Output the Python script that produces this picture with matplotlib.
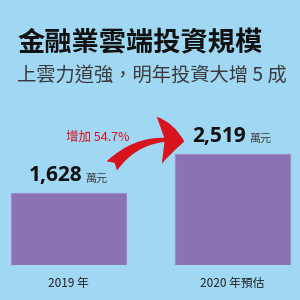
import matplotlib
matplotlib.use("Agg")
import matplotlib.pyplot as plt
from matplotlib.patches import FancyArrowPatch

# data
categories = ["2019 年", "2020 年預估"]
values = [1628, 2519]
value_labels = ["1,628", "2,519"]
unit = "萬元"
growth_label = "增加 54.7%"
title = "金融業雲端投資規模"
subtitle = "上雲力道強，明年投資大增 5 成"

BG = "#a0d8f3"
BAR = "#8a73b1"
CJK = ["Noto Sans CJK TC", "DejaVu Sans"]
NUM = ["Open Sans", "Noto Sans CJK TC"]

fig = plt.figure(figsize=(3, 3), dpi=100, facecolor=BG)

fig.text(17 / 300, 1 - 43 / 300, title, family=CJK, weight="bold",
         fontsize=19.6, color="#111111", va="center", ha="left")
fig.text(17 / 300, 1 - 75 / 300, subtitle, family=CJK,
         fontsize=13.9, color="#3a3a3a", va="center", ha="left")

# axes: baseline at y=265px, spans whole width
ax = fig.add_axes([0, 35 / 300, 1, 265 / 300])
ax.set_facecolor("none")
px_per_unit = 111 / 2519
ax.set_ylim(0, 265 / px_per_unit)
ax.set_xlim(-68.5 / 164, 231.5 / 164)
ax.axis("off")

x = list(range(len(values)))
ax.bar(x, values, width=115 / 164, color=BAR, edgecolor="#9a8cc4", linewidth=0.8)

for i, v in enumerate(values):
    ax.annotate(value_labels[i], (i - 0.08, v), xytext=(0, 5), textcoords="offset points",
                ha="center", va="bottom", family=NUM, weight="bold", fontsize=15, color="#111111")
    ax.annotate(unit, (i + 0.17, v), xytext=(0, 7), textcoords="offset points",
                ha="center", va="bottom", family=CJK, fontsize=8, color="#444444")
    ax.annotate(categories[i], (i, 0), xytext=(0, -13), textcoords="offset points",
                ha="center", va="center", family=CJK, fontsize=8.5, color="#222222")

# red growth arrow
arrow = FancyArrowPatch((110 / 300, 1 - 168 / 300), (187 / 300, 1 - 142 / 300),
                        transform=fig.transFigure, connectionstyle="arc3,rad=-0.3",
                        arrowstyle="fancy,head_length=1.8,head_width=3.4,tail_width=1.0",
                        facecolor="#d7141c", edgecolor="none", mutation_scale=10)
fig.patches.append(arrow)
fig.text(98 / 300, 1 - 137 / 300, growth_label, family=CJK, style="italic",
         fontsize=9, color="#d7141c", ha="center", va="center")

fig.savefig("out.png", dpi=100, facecolor=BG)
